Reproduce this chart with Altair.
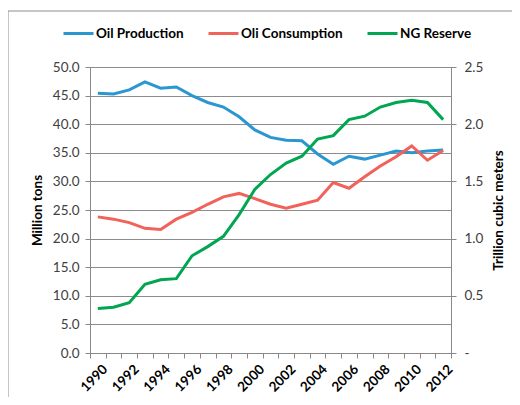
import altair as alt
import pandas as pd

years = list(range(1990, 2013))
oil_production = [45.4, 45.3, 46.0, 47.4, 46.3, 46.5, 45.0, 43.8, 43.0, 41.3, 39.0, 37.7, 37.2, 37.1,
                  34.8, 33.0, 34.4, 33.9, 34.6, 35.3, 35.0, 35.3, 35.5]
oil_consumption = [23.8, 23.4, 22.8, 21.8, 21.6, 23.4, 24.6, 26.0, 27.3, 27.9, 27.0, 26.0, 25.3, 26.0,
                   26.7, 29.8, 28.8, 30.8, 32.7, 34.3, 36.2, 33.7, 35.4]
ng_reserve = [0.39, 0.40, 0.44, 0.60, 0.64, 0.65, 0.85, 0.93, 1.02, 1.21, 1.43, 1.56, 1.66, 1.72,
              1.87, 1.90, 2.04, 2.07, 2.15, 2.19, 2.21, 2.19, 2.04]
series_names = ["Oil Production", "Oli Consumption", "NG Reserve"]
series_colors = ["#2A97D1", "#F0625A", "#00A651"]

left_df = pd.DataFrame({
    "year": years * 2,
    "value": oil_production + oil_consumption,
    "series": [series_names[0]] * len(years) + [series_names[1]] * len(years),
})
right_df = pd.DataFrame({"year": years, "value": ng_reserve, "series": [series_names[2]] * len(years)})

FONT = "Lato"
FS = 13.5
half_years = [y - 0.5 for y in years] + [years[-1] + 0.5]

xscale = alt.Scale(domain=[1989.5, 2012.5], nice=False, zero=False)
color = alt.Color("series:N",
                  scale=alt.Scale(domain=series_names, range=series_colors),
                  legend=alt.Legend(title=None, orient="none", direction="horizontal",
                                    legendX=-28, legendY=-50, symbolType="stroke",
                                    symbolSize=900, symbolStrokeWidth=3, labelFontSize=FS,
                                    labelFontWeight="bold", labelFont=FONT, labelColor="#000000",
                                    labelOffset=1, columnPadding=18))

xaxis = alt.Axis(values=half_years, grid=False, title=None,
                 labelExpr="datum.value < 2012 && (datum.value - 1989.5) % 2 == 0 ? format(datum.value + 0.5, 'd') : ''",
                 labelOffset=10, labelAngle=-45, labelAlign="right", labelBaseline="top",
                 labelFont=FONT, labelFontSize=FS, labelFontWeight="bold", labelColor="#000000",
                 domainColor="#888888", tickColor="#888888", tickSize=5, labelPadding=4,
                 labelOverlap=False)

left = alt.Chart(left_df).mark_line(strokeWidth=3).encode(
    x=alt.X("year:Q", scale=xscale, axis=xaxis),
    y=alt.Y("value:Q", scale=alt.Scale(domain=[0, 50], nice=False),
            axis=alt.Axis(title="Million tons", values=list(range(0, 51, 5)), format=".1f",
                          titleFont=FONT, titleFontSize=FS, titleFontWeight="bold", titleColor="#000000",
                          labelFont=FONT, labelFontSize=FS, labelColor="#404040",
                          grid=True, gridColor="#8C8C8C", domainColor="#888888", tickColor="#888888",
                          tickSize=5, labelPadding=6, titlePadding=8)),
    color=color,
)

right = alt.Chart(right_df).mark_line(strokeWidth=3).encode(
    x=alt.X("year:Q", scale=xscale, axis=xaxis),
    y=alt.Y("value:Q", scale=alt.Scale(domain=[0, 2.5], nice=False),
            axis=alt.Axis(title="Trillion cubic meters", orient="right",
                          values=[0, 0.5, 1.0, 1.5, 2.0, 2.5],
                          labelExpr="datum.value == 0 ? '-' : format(datum.value, '.1f')",
                          titleFont=FONT, titleFontSize=FS, titleFontWeight="bold", titleColor="#000000",
                          titleAngle=270, titleBaseline="middle", titleAlign="center",
                          titleX=47, titleY=143,
                          labelFont=FONT, labelFontSize=FS, labelColor="#404040",
                          grid=False, domainColor="#888888", tickColor="#888888",
                          tickSize=5, labelPadding=8)),
    color=color,
)

frame = alt.Chart(pd.DataFrame({"k": [0]})).mark_rect(fill=None, stroke="#8C8C8C", strokeWidth=1).encode(
    x=alt.value(-82), x2=alt.value(700), y=alt.value(-56), y2=alt.value(700)
)

chart = alt.layer(frame, left, right).resolve_scale(y="independent").properties(
    width=361, height=286,
    autosize=alt.AutoSizeParams(type="none"),
    padding={"left": 82, "top": 59, "right": 61, "bottom": 44},
).configure_view(stroke=None)

chart.save("out.html", embed_options={"renderer": "svg", "actions": False})
